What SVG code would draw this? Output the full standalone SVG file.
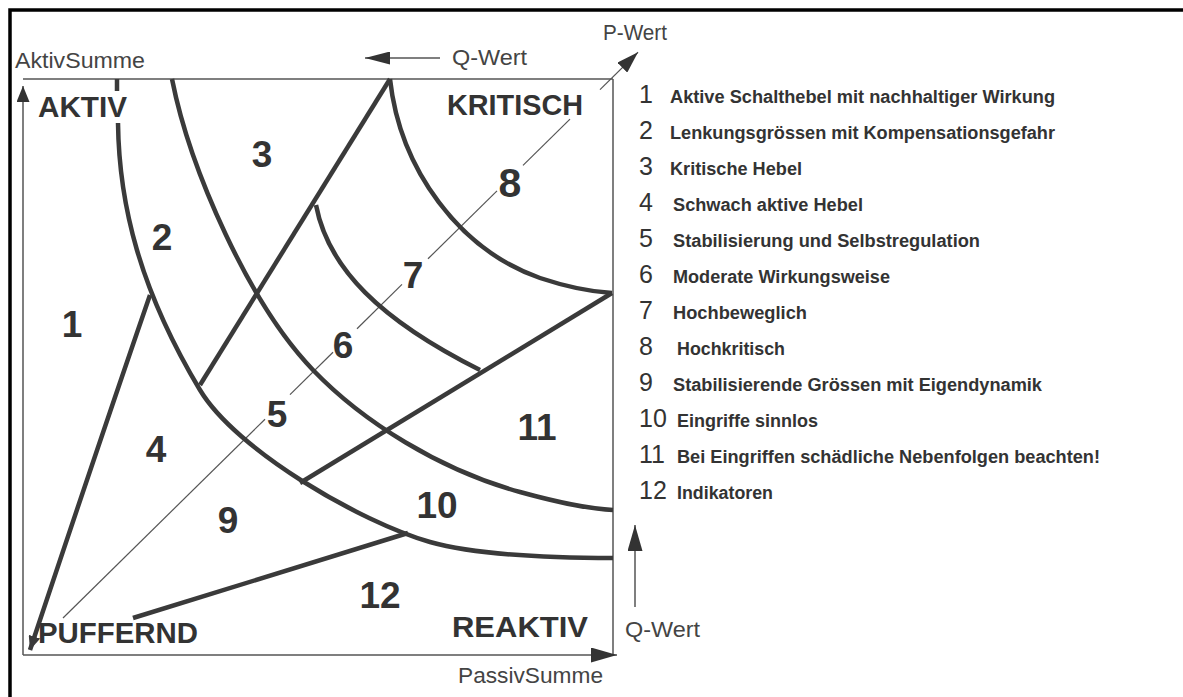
<svg xmlns="http://www.w3.org/2000/svg" width="1183" height="697" viewBox="0 0 1183 697">
<style>
.frame{fill:none;stroke:#000;stroke-width:3.5}
.thin{fill:none;stroke:#555;stroke-width:1.5}
.diag{fill:none;stroke:#555;stroke-width:1.2}
.thick{fill:none;stroke:#3a3a3a;stroke-width:4.5;stroke-linejoin:round}
.zone{font-family:"Liberation Sans",Arial,sans-serif;font-weight:bold;fill:#333}
.num{font-size:37px;text-anchor:middle}
.corner{font-size:29px}
.axis{font-family:"Liberation Sans",Arial,sans-serif;font-size:22px;fill:#444}
.lnum{font-family:"Liberation Sans",Arial,sans-serif;font-size:25px;fill:#333}
.ltxt{font-family:"Liberation Sans",Arial,sans-serif;font-size:18px;font-weight:bold;fill:#333}
</style>
<defs>
<marker id="a1" viewBox="0 0 16 13" refX="16" refY="6.5" markerWidth="16" markerHeight="13" markerUnits="userSpaceOnUse" orient="auto"><path d="M0,0 L16,6.5 L0,13 z" fill="#333"/></marker>
<marker id="a2" viewBox="0 0 25 13" refX="25" refY="6.5" markerWidth="25" markerHeight="13" markerUnits="userSpaceOnUse" orient="auto"><path d="M0,0 L25,6.5 L0,13 z" fill="#333"/></marker>
<marker id="a3" viewBox="0 0 22 14" refX="22" refY="7" markerWidth="22" markerHeight="14" markerUnits="userSpaceOnUse" orient="auto"><path d="M0,0 L22,7 L0,14 z" fill="#333"/></marker>
<marker id="a4" viewBox="0 0 26 15" refX="26" refY="7.5" markerWidth="26" markerHeight="15" markerUnits="userSpaceOnUse" orient="auto"><path d="M0,0 L26,7.5 L0,15 z" fill="#333"/></marker>
<marker id="a5" viewBox="0 0 14 12" refX="14" refY="6" markerWidth="14" markerHeight="12" markerUnits="userSpaceOnUse" orient="auto"><path d="M0,0 L14,6 L0,12 z" fill="#3a3a3a"/></marker>
</defs>
<rect width="1183" height="697" fill="#fff"/>
<path class="frame" d="M10,697 V10 H1183"/>

<g id="connectors">
  <!-- box and axes -->
  <line class="thin" x1="23" y1="79" x2="613" y2="79"/>
  <line class="thin" x1="613" y1="79" x2="613" y2="655"/>
  <line class="thin" x1="23" y1="655" x2="23" y2="86" marker-end="url(#a1)"/>
  <line class="thin" x1="23" y1="655" x2="617" y2="655" marker-end="url(#a4)"/>
  <line class="thin" x1="440" y1="58" x2="365" y2="58" marker-end="url(#a2)"/>
  <line class="thin" x1="635" y1="607" x2="635" y2="525" marker-end="url(#a4)"/>
  <!-- diagonal P-Wert line -->
  <g class="diag">
    <line x1="63" y1="618" x2="265" y2="419.2"/>
    <line x1="290" y1="394.6" x2="333" y2="352.3"/>
    <line x1="357" y1="328.7" x2="402" y2="284.4"/>
    <line x1="428" y1="258.8" x2="497" y2="190.9"/>
    <line x1="523" y1="165.4" x2="570" y2="119.1"/>
    <line x1="600" y1="89.6" x2="638" y2="52.2" marker-end="url(#a3)"/>
  </g>
  <!-- thick region boundaries -->
  <g class="thick">
    <path d="M117,79 L117,91"/>
    <path d="M118,123 C119,205 140,290 200,390 C236,450 360,522 430,542 C480,556 560,558 613,558"/>
    <path d="M172,79 C190,170 250,305 313,370 C363,422 440,470 520,492 C560,503 590,509 613,510"/>
    <path d="M390,79 C400,170 460,250 540,278 C570,288 595,292 612,293"/>
    <path d="M316,205 C328,268 380,320 480,370"/>
    <path d="M200,385 L390,79"/>
    <path d="M612,293 L300,483"/>
    <path d="M150,295 Q100,440 30,650" marker-end="url(#a5)"/>
    <path d="M133,618 L408,533"/>
  </g>
</g>

<g id="zone-1"><text class="zone num" x="72" y="337">1</text></g>
<g id="zone-2"><text class="zone num" x="162" y="250">2</text></g>
<g id="zone-3"><text class="zone num" x="262" y="167">3</text></g>
<g id="zone-4"><text class="zone num" x="156" y="462">4</text></g>
<g id="zone-5"><text class="zone num" x="277" y="427">5</text></g>
<g id="zone-6"><text class="zone num" x="343" y="358">6</text></g>
<g id="zone-7"><text class="zone num" x="413" y="288">7</text></g>
<g id="zone-8"><text class="zone num" x="510" y="197" style="font-size:41px">8</text></g>
<g id="zone-9"><text class="zone num" x="228" y="533">9</text></g>
<g id="zone-10"><text class="zone num" x="437" y="518">10</text></g>
<g id="zone-11"><text class="zone num" x="537" y="440">11</text></g>
<g id="zone-12"><text class="zone num" x="380" y="608">12</text></g>

<g id="corners">
  <text class="zone corner" x="38" y="117" textLength="89" lengthAdjust="spacingAndGlyphs">AKTIV</text>
  <text class="zone corner" x="447" y="115" textLength="136" lengthAdjust="spacingAndGlyphs">KRITISCH</text>
  <text class="zone corner" x="38" y="643" textLength="160" lengthAdjust="spacingAndGlyphs">PUFFERND</text>
  <text class="zone corner" x="452" y="637" textLength="136" lengthAdjust="spacingAndGlyphs">REAKTIV</text>
</g>

<g id="axis-labels">
  <text class="axis" x="15" y="68" textLength="130" lengthAdjust="spacingAndGlyphs">AktivSumme</text>
  <text class="axis" x="452" y="65" textLength="75" lengthAdjust="spacingAndGlyphs">Q-Wert</text>
  <text class="axis" x="603" y="40" textLength="64" lengthAdjust="spacingAndGlyphs">P-Wert</text>
  <text class="axis" x="625" y="637" textLength="75" lengthAdjust="spacingAndGlyphs">Q-Wert</text>
  <text class="axis" x="458" y="683" textLength="145" lengthAdjust="spacingAndGlyphs">PassivSumme</text>
</g>

<g id="legend">
  <text class="lnum" x="639" y="103">1</text><text class="ltxt" x="670" y="103" textLength="385" lengthAdjust="spacingAndGlyphs">Aktive Schalthebel mit nachhaltiger Wirkung</text>
  <text class="lnum" x="639" y="139">2</text><text class="ltxt" x="670" y="139" textLength="385" lengthAdjust="spacingAndGlyphs">Lenkungsgrössen mit Kompensationsgefahr</text>
  <text class="lnum" x="639" y="175">3</text><text class="ltxt" x="670" y="175" textLength="132" lengthAdjust="spacingAndGlyphs">Kritische Hebel</text>
  <text class="lnum" x="639" y="211">4</text><text class="ltxt" x="673" y="211" textLength="190" lengthAdjust="spacingAndGlyphs">Schwach aktive Hebel</text>
  <text class="lnum" x="639" y="247">5</text><text class="ltxt" x="673" y="247" textLength="307" lengthAdjust="spacingAndGlyphs">Stabilisierung und Selbstregulation</text>
  <text class="lnum" x="639" y="283">6</text><text class="ltxt" x="673" y="283" textLength="217" lengthAdjust="spacingAndGlyphs">Moderate Wirkungsweise</text>
  <text class="lnum" x="639" y="319">7</text><text class="ltxt" x="673" y="319" textLength="134" lengthAdjust="spacingAndGlyphs">Hochbeweglich</text>
  <text class="lnum" x="639" y="355">8</text><text class="ltxt" x="677" y="355" textLength="108" lengthAdjust="spacingAndGlyphs">Hochkritisch</text>
  <text class="lnum" x="639" y="391">9</text><text class="ltxt" x="673" y="391" textLength="369" lengthAdjust="spacingAndGlyphs">Stabilisierende Grössen mit Eigendynamik</text>
  <text class="lnum" x="639" y="427">10</text><text class="ltxt" x="677" y="427" textLength="141" lengthAdjust="spacingAndGlyphs">Eingriffe sinnlos</text>
  <text class="lnum" x="639" y="463">11</text><text class="ltxt" x="677" y="463" textLength="423" lengthAdjust="spacingAndGlyphs">Bei Eingriffen schädliche Nebenfolgen beachten!</text>
  <text class="lnum" x="639" y="499">12</text><text class="ltxt" x="677" y="499" textLength="96" lengthAdjust="spacingAndGlyphs">Indikatoren</text>
</g>
</svg>
